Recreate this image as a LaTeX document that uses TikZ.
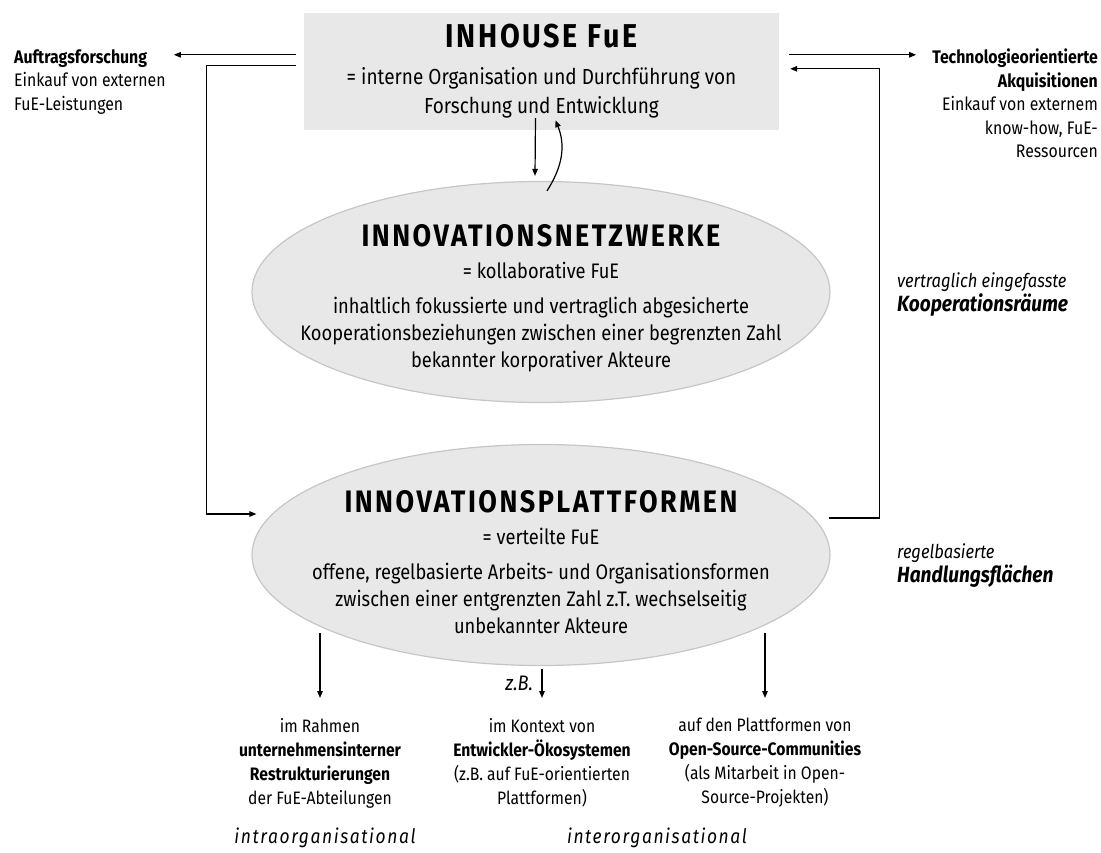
\documentclass[tikz,border=0pt]{standalone}
\usepackage{fontspec}
\setmainfont{Fira Sans}[FakeStretch=0.87]
\usetikzlibrary{positioning, arrows.meta, calc, shapes.geometric}
\definecolor{boxgray}{HTML}{E8E8E8}
\definecolor{ellgray}{HTML}{C6C6C6}
\newcommand{\ttlfont}[1]{\fontsize{#1}{#1}\selectfont\bfseries\addfontfeature{LetterSpace=8}}
\tikzset{
  hbox/.style={fill=boxgray, minimum width=475pt, minimum height=117pt, align=center, inner sep=0pt, font=\fontsize{21.8}{29}\selectfont},
  ell/.style={ellipse, fill=boxgray, draw=ellgray, line width=1.2pt, minimum width=578pt, minimum height=221pt, inner sep=0pt},
  elltxt/.style={align=center, inner sep=0pt, font=\fontsize{21}{27}\selectfont},
  side/.style={inner sep=0pt, font=\fontsize{18.2}{23.5}\selectfont},
  spc/.style={inner sep=0pt, align=left, anchor=west, font=\fontsize{19}{24}\selectfont\itshape},
  col/.style={align=center, anchor=north, inner xsep=0pt, inner ysep=20pt, font=\fontsize{18}{24}\selectfont},
  lvl/.style={inner sep=0pt, font=\fontsize{20}{24}\selectfont\itshape\addfontfeature{LetterSpace=8}},
  arr/.style={-{Triangle[length=7pt, width=5.5pt]}, line width=1.2pt},
}
\begin{document}
\begin{tikzpicture}[x=1pt, y=-1pt]
\useasboundingbox (0,0) rectangle (1101,853);
% Kaestchen und Ellipsen
\node[hbox] (inhouse) at (541.5,71.5) {{\ttlfont{33}INHOUSE FuE}\\[8pt]
  = interne Organisation und Durchführung von\\ Forschung und Entwicklung};
\node[ell] (netz) at (541,292) {};
\node[elltxt] (netztxt) at (541,298) {{\ttlfont{31}INNOVATIONSNETZWERKE}\\[5pt]
  = kollaborative FuE\\[8pt]
  inhaltlich fokussierte und vertraglich abgesicherte\\
  Kooperationsbeziehungen zwischen einer begrenzten Zahl\\
  bekannter korporativer Akteure};
\node[ell] (plat) at (541,555) {};
\node[elltxt] (plattxt) at (541,562) {{\ttlfont{31}INNOVATIONSPLATTFORMEN}\\[5pt]
  = verteilte FuE\\[8pt]
  offene, regelbasierte Arbeits- und Organisationsformen\\
  zwischen einer entgrenzten Zahl z.T. wechselseitig\\
  unbekannter Akteure};
% Seiten
\node[side, align=left, anchor=north west] (auftrag) at (14,49) {\textbf{Auftragsforschung}\\
  Einkauf von externen\\ FuE-Leistungen};
\node[side, align=right, anchor=north east] (akqui) at (1098,49) {\textbf{Technologieorientierte}\\
  \textbf{Akquisitionen}\\ Einkauf von externem\\ know-how, FuE-\\ Ressourcen};
\node[spc] (koop) at (897,295) {vertraglich eingefasste\\ {\fontsize{22}{24}\selectfont\bfseries Kooperationsräume}};
\node[spc] (handl) at (897,566) {regelbasierte\\ {\fontsize{22}{24}\selectfont\bfseries Handlungsflächen}};
% unten
\node[col] (intern) at (320,698) {im Rahmen\\ \textbf{unternehmensinterner}\\
  \textbf{Restrukturierungen}\\ der FuE-Abteilungen};
\node[col] (oeko) at (542,698) {im Kontext von\\ \textbf{Entwickler-Ökosystemen}\\
  (z.B. auf FuE-orientierten\\ Plattformen)};
\node[col] (oss) at (765,698) {auf den Plattformen von\\ \textbf{Open-Source-Communities}\\
  (als Mitarbeit in Open-\\ Source-Projekten)};
\node[lvl] (intra) at (325,838) {intraorganisational};
\node[lvl] (inter) at (657,838) {interorganisational};
% Pfeile
\coordinate (aufS) at ($(inhouse.north west)+(-8,42)$);
\coordinate (linksO) at ($(inhouse.north west)+(-8,53)$);
\coordinate (linksU) at ($(plat.west)+(5,-41)$);
\coordinate (techS) at ($(inhouse.north east)+(10,42)$);
\coordinate (rechtsO) at ($(inhouse.north east)+(11,56)$);
\coordinate (rechtsU) at ($(plat.east)+(-2,-37)$);
\draw[arr] (aufS) -- ([xshift=8pt]aufS -| auftrag.east);
\draw[arr] (techS) -- ([xshift=-16pt]techS -| akqui.west);
\draw[arr] (linksO) -- ++(-89,0) |- (linksU);
\draw[arr] (rechtsU) -- ++(51,0) |- (rechtsO);
\coordinate (runterS) at ($(inhouse.south)+(-6,-12)$);
\coordinate (runterE) at ($(netz.north)+(-6,-5)$);
\coordinate (raufS) at ($(netz.north)+(6,10)$);
\coordinate (raufE) at ($(inhouse.south)+(14,-10)$);
\draw[arr] (runterS) -- (runterE);
\draw[arr] (raufS) .. controls ($(raufS)+(16,-25)$) and ($(raufE)+(10,25)$) .. (raufE);
\coordinate (abI) at ($(plat.south)+(-221,-33)$);
\coordinate (abK) at ($(plat.south)+(1,3)$);
\coordinate (abO) at ($(plat.south)+(224,-33)$);
\foreach \von/\nach in {abI/intern, abO/oss}
  \draw[arr] (\von) -- (\nach);
\draw[arr] (abK) -- node[left=5pt, font=\fontsize{21}{21}\selectfont\itshape] {z.B.} (oeko);
\end{tikzpicture}
\end{document}
